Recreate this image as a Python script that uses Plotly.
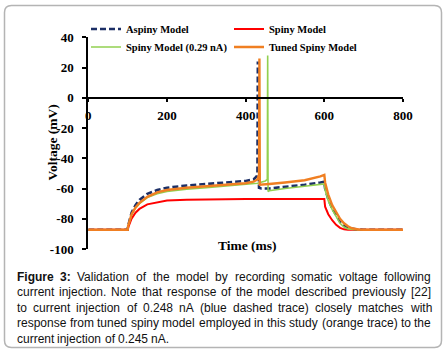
import plotly.graph_objects as go

W, H = 447, 351

# ---- data (time in ms, voltage in mV) ----
aspiny_t = [0, 100, 101, 105, 110, 120, 130, 150, 175, 200, 250, 300, 350, 400, 420, 428, 430, 431, 432, 434, 440, 460, 500, 550, 590, 600, 602, 610, 620, 630, 640, 650, 660, 680, 700, 800]
aspiny_v = [-87.3, -87.3, -85, -80, -76, -71, -67.5, -63.5, -61, -59.5, -58, -57, -56, -55, -54, -52, -50, 24, -30, -59.5, -60, -60, -59, -57.5, -56, -55.5, -60, -67, -73, -78, -82, -84.5, -86, -87, -87.3, -87.3]

spiny_t = [0, 100, 101, 105, 110, 120, 130, 150, 175, 200, 250, 300, 400, 500, 600, 602, 610, 620, 630, 640, 650, 660, 800]
spiny_v = [-87.3, -87.3, -86, -83, -80, -76, -73.5, -70.5, -69, -68, -67.5, -67.2, -67, -67, -67, -72, -77, -81, -84, -86, -87, -87.3, -87.3]

green_t = [0, 100, 101, 105, 110, 120, 130, 150, 175, 200, 250, 300, 350, 400, 430, 450, 455, 456, 457, 460, 480, 500, 550, 600, 602, 610, 620, 630, 640, 650, 660, 680, 800]
green_v = [-87.3, -87.3, -85, -81, -77.5, -73, -70, -66, -63.5, -62, -60.5, -59.5, -58.5, -57.5, -56.5, -55, -54, 28, -62, -61.5, -60.5, -60, -58.5, -57, -61, -68, -74, -79, -83, -85.5, -86.7, -87.2, -87.3]

tuned_t = [0, 100, 101, 105, 110, 120, 130, 150, 175, 200, 250, 300, 350, 400, 420, 430, 434, 435, 436, 437, 440, 460, 500, 550, 590, 600, 602, 610, 620, 630, 640, 650, 660, 670, 680, 690, 700, 800]
tuned_v = [-87.3, -87.3, -85, -80.5, -77, -72.5, -69.5, -65.5, -62.5, -61, -59.5, -58.5, -57.5, -56.5, -55.5, -54, -51, 26, -57.5, -57.5, -57.5, -57, -56, -54.5, -52, -51, -56, -64, -71, -76, -80, -83, -85, -86.3, -87, -87.2, -87.3, -87.3]

x_ticks = [0, 200, 400, 600, 800]
y_ticks = [40, 20, 0, -20, -40, -60, -80, -100]

caption_lines = [
    "**Figure **3: Validation of the model by recording somatic voltage following",
    "current injection. Note that response of the model described previously [22]",
    "to current injection of 0.248 nA (blue dashed trace) closely matches with",
    "response from tuned spiny model employed in this study (orange trace) to the",
    "current injection of 0.245 nA.",
]

# ---- figure ----
fig = go.Figure()
fig.add_trace(go.Scatter(x=aspiny_t, y=aspiny_v, mode="lines", name="Aspiny Model", legend="legend",
                         line=dict(color="#1c2f66", width=2.6, dash="6px,3px")))
fig.add_trace(go.Scatter(x=spiny_t, y=spiny_v, mode="lines", name="Spiny Model", legend="legend",
                         line=dict(color="#ff0000", width=2)))
fig.add_trace(go.Scatter(x=green_t, y=green_v, mode="lines", name="Spiny Model (0.29 nA)", legend="legend2",
                         line=dict(color="#92d050", width=1.6)))
fig.add_trace(go.Scatter(x=tuned_t, y=tuned_v, mode="lines", name="Tuned Spiny Model", legend="legend2",
                         line=dict(color="#f07f22", width=2.4)))

px = lambda p: p / W
py = lambda p: (H - p) / H

x0, x1 = 88.3, 403.0
y_top, y_bot = 37.3, 249.0
y_zero = 97.7

tickfont = dict(family="Liberation Serif", size=13, color="black", weight="bold")
legfont = dict(family="Liberation Serif", size=10.5, color="black", weight="bold")
leg_common = dict(orientation="h", x=px(86), xanchor="left", yanchor="middle",
                  entrywidth=98, entrywidthmode="pixels", font=legfont,
                  bgcolor="rgba(0,0,0,0)")

fig.update_layout(
    width=W, height=H,
    margin=dict(l=0, r=0, t=0, b=0, autoexpand=False),
    paper_bgcolor="white", plot_bgcolor="white",
    showlegend=True,
    legend=dict(y=py(29), **leg_common),
    legend2=dict(y=py(47), **leg_common),
    xaxis=dict(range=[0, 800], domain=[px(x0), px(x1)], anchor="free", position=py(y_zero),
               tickvals=x_ticks, ticktext=[str(v) for v in x_ticks],
               showgrid=False, zeroline=False, showline=True, linecolor="black", linewidth=2,
               ticks="outside", ticklen=3, tickwidth=1.5, tickcolor="black",
               tickfont=tickfont, ticklabelstandoff=3),
    yaxis=dict(range=[-100, 40], domain=[py(y_bot), py(y_top)],
               tickvals=y_ticks, ticktext=[str(v) for v in y_ticks],
               showgrid=False, zeroline=False, showline=True, linecolor="black", linewidth=2,
               ticks="outside", ticklen=4, tickwidth=1.5, tickcolor="black",
               tickfont=tickfont, ticklabelstandoff=6),
)

annotations = [
    dict(text="Voltage (mV)", x=px(42), y=py(143), xref="paper", yref="paper",
         textangle=-90, showarrow=False,
         font=dict(family="Liberation Serif", size=13.5, color="black", weight="bold")),
    dict(text="Time (ms)", x=px(247), y=py(255), xref="paper", yref="paper",
         showarrow=False,
         font=dict(family="Liberation Serif", size=13.5, color="black", weight="bold")),
]

# ---- justified caption (Arial / Liberation Sans metrics, units per 1000 em) ----
REG = dict(zip("abcdefghijklmnopqrstuvwxyz",
               [556, 556, 500, 556, 556, 278, 556, 556, 222, 222, 500, 222, 833,
                556, 556, 556, 556, 333, 500, 278, 556, 500, 722, 500, 500, 500]))
REG.update({d: 556 for d in "0123456789"})
REG.update({"F": 611, "V": 667, "N": 722, "A": 667, ".": 278, ":": 278, "(": 333, ")": 333,
            "[": 278, "]": 278, " ": 278})
BOLD = {"F": 611, "i": 278, "g": 611, "u": 611, "r": 389, "e": 556, "3": 556, ":": 333, " ": 278}

FS = 12
cap_left, cap_right = 15.7, 430.0
line_y = [276.7, 292.2, 307.7, 323.2, 338.7]
capfont = dict(family="Liberation Sans", size=FS, color="#111111")

for li, line in enumerate(caption_lines):
    bold_words = 0
    if line.startswith("**Figure **"):
        line = line.replace("**Figure **", "Figure ")
        bold_words = 2
    words = line.split(" ")
    widths = []
    for wi, w in enumerate(words):
        table = BOLD if wi < bold_words else REG
        widths.append(sum(table.get(c, 556) for c in w) * FS / 1000)
    last = li == len(caption_lines) - 1
    if last:
        gap = REG[" "] * FS / 1000
    else:
        gap = (cap_right - cap_left - sum(widths)) / (len(words) - 1)
    x = cap_left
    for wi, w in enumerate(words):
        txt = f"<b>{w}</b>" if wi < bold_words else w
        annotations.append(dict(text=txt, x=px(x), y=py(line_y[li]), xref="paper", yref="paper",
                                xanchor="left", yanchor="middle", showarrow=False,
                                font=capfont, borderpad=0))
        x += widths[wi] + gap

fig.update_layout(annotations=annotations)

# rounded outer frame
L, R, T, B, r = px(4.5), px(441.5), py(5.5), py(347.5), 7
rx, ry = r / W, r / H
path = (f"M {L+rx},{T} L {R-rx},{T} Q {R},{T} {R},{T-ry} L {R},{B+ry} Q {R},{B} {R-rx},{B} "
        f"L {L+rx},{B} Q {L},{B} {L},{B+ry} L {L},{T-ry} Q {L},{T} {L+rx},{T} Z")
fig.add_shape(type="path", path=path, xref="paper", yref="paper",
              line=dict(color="#b4b4b4", width=1.5), fillcolor="rgba(0,0,0,0)", layer="below")

fig.write_html("out.html", config={"displayModeBar": False},
               post_script="document.body.style.margin='0';document.body.style.overflow='hidden';")
